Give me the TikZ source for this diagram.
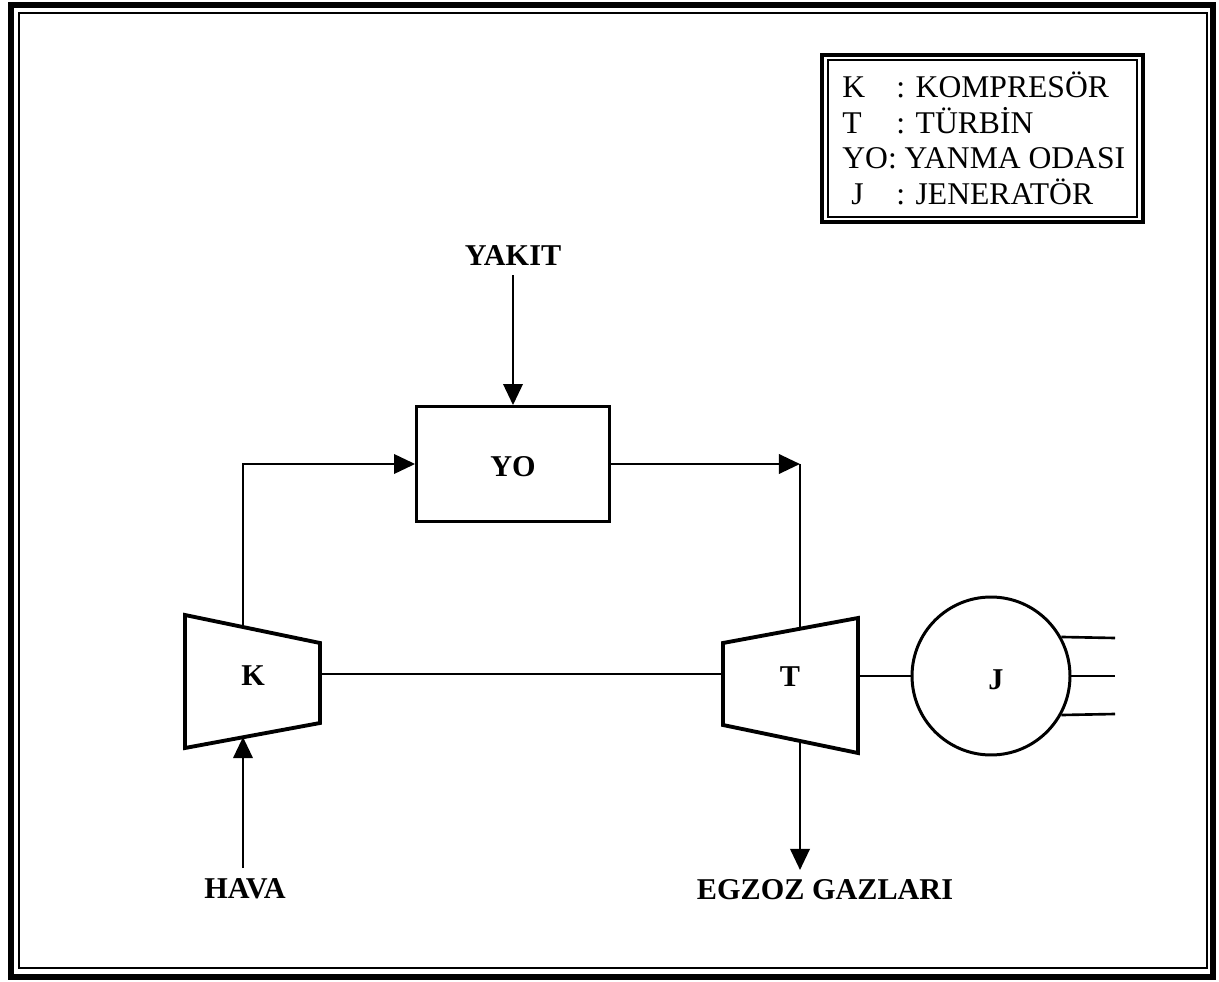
\documentclass[tikz,border=0pt]{standalone}
\usepackage{fontspec}
\setmainfont{Liberation Serif}
\usetikzlibrary{arrows.meta}
\begin{document}
\begin{tikzpicture}[x=0.02cm,y=-0.02cm,
  lbl/.style={font=\fontsize{18}{21}\selectfont, inner sep=0pt},
  blbl/.style={font=\fontsize{17.2}{20}\selectfont\bfseries, inner sep=0pt},
  conn/.style={line width=1.5pt},
  arr/.style={conn,-{Triangle[length=12pt,width=11pt]}},
  shapeedge/.style={line width=2.2pt, line join=miter}]

\useasboundingbox (0,0) rectangle (1219,982);
% outer frame
\draw[line width=3.4pt] (11,5) rectangle (1213,977);
\draw[line width=1.1pt] (19,13) rectangle (1207,968);

% legend
\draw[line width=2.2pt] (822,55) rectangle (1143,222);
\draw[line width=0.9pt] (828,60) rectangle (1137,217);
\node[lbl, anchor=base west] (lk)  at (842,98)  {K};
\node[lbl, anchor=base west] (lkt) at (896,98)  {: KOMPRESÖR};
\node[lbl, anchor=base west] (lt)  at (842,134) {T};
\node[lbl, anchor=base west] (ltt) at (896,134) {: TÜRBİN};
\node[lbl, anchor=base west] (ly)  at (842,169) {YO: YANMA ODASI};
\node[lbl, anchor=base west] (lj)  at (851,205) {J};
\node[lbl, anchor=base west] (ljt) at (896,205) {: JENERATÖR};

% combustion chamber
\node[draw, line width=1.6pt, minimum width=3.86cm, minimum height=2.3cm, inner sep=0pt] (yo) at (513,464) {};
\node[blbl] (yolbl) at (513,467) {YO};
\node[blbl] (yakit) at (513,256) {YAKIT};
\draw[arr] ([yshift=-5pt]yakit.south) -- (yo.north);

% compressor
\coordinate (k1) at (185,615);
\coordinate (k2) at (320,643);
\coordinate (k3) at (320,723);
\coordinate (k4) at (185,748);
\draw[shapeedge] (k1) -- (k2) -- (k3) -- (k4) -- cycle;
\node[blbl] (klbl) at (253,676) {K};
\coordinate (kt) at (243,627);
\coordinate (kb) at (243,737);
\coordinate (ks) at (320,674);

% turbine
\coordinate (t1) at (723,643);
\coordinate (t2) at (858,618);
\coordinate (t3) at (858,753);
\coordinate (t4) at (723,725);
\draw[shapeedge] (t1) -- (t2) -- (t3) -- (t4) -- cycle;
\node[blbl] (tlbl) at (790,677) {T};
\coordinate (tt) at (800,629);
\coordinate (tb) at (800,741);
\coordinate (ts) at (723,674);
\coordinate (tj) at (858,676);

% generator
\node[draw, circle, line width=1.7pt, minimum size=3.16cm, inner sep=0pt] (J) at (991,676) {};
\node[blbl] (jlbl) at (996,680) {J};
\coordinate (o1) at (1115,638);
\coordinate (o2) at (1115,676);
\coordinate (o3) at (1115,714);

% labels
\node[blbl] (hava) at (245,889) {HAVA};
\node[blbl] (egz) at (825,890) {EGZOZ GAZLARI};
\coordinate (havatop) at (243,868);
\coordinate (exend) at (800,870);

% connectors
\draw[arr] (kt) |- (yo.west);
\draw[arr] (yo.east) -- (yo.east -| tt);
\draw[conn] (yo.east -| tt) -- (tt);
\draw[arr] (havatop) -- (kb);
\draw[arr] (tb) -- (exend);
\draw[conn] (ks) -- (ts);
\draw[conn] (tj) -- (J.west);
\draw[conn] (J.29) -- (o1);
\draw[conn] (J.east) -- (o2);
\draw[conn] (J.-29) -- (o3);
\end{tikzpicture}
\end{document}
